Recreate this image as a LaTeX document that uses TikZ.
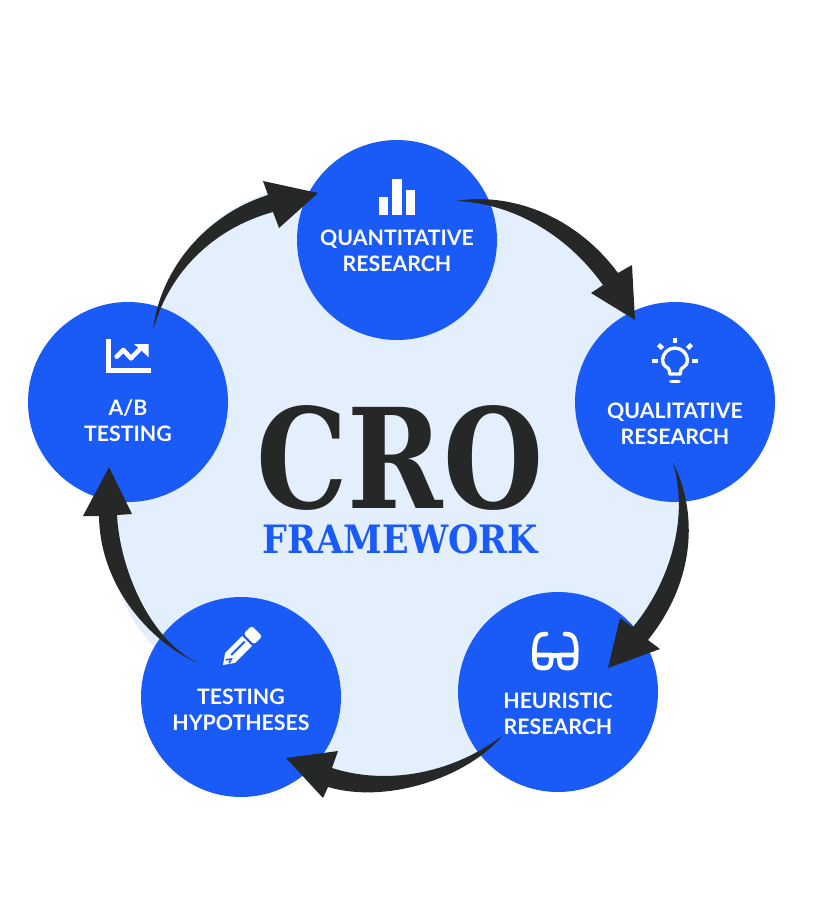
\documentclass[tikz,border=0pt]{standalone}
\usepackage{fontspec}
\usepackage{graphicx}
\setmainfont{Lato}
\newfontfamily\titlefont{DejaVu Serif}
\definecolor{croblue}{HTML}{1A5AF6}
\definecolor{crolight}{HTML}{E4EFFE}
\definecolor{crodark}{HTML}{262827}
\tikzset{
  bluedisc/.style={circle,fill=croblue,draw=none,minimum size=200pt,inner sep=0pt},
  lbl/.style={text=white,align=center,inner sep=0pt,font=\fontsize{21.3}{26}\selectfont\bfseries},
  sweep/.style={fill=crodark,draw=none},
  icon/.style={fill=white,draw=none},
  iconline/.style={draw=white,fill=none,line width=3.4pt,line cap=round,line join=round},
}
\begin{document}
\begin{tikzpicture}[x=1pt,y=-1pt]
\useasboundingbox (0,0) rectangle (818,900);
\fill[white] (0,0) rectangle (818,900);
% arrow end points
\coordinate (a1s) at (456,201);
\coordinate (a1e) at (635,320);
\coordinate (a2s) at (673,463);
\coordinate (a2e) at (608,668);
\coordinate (a3s) at (502,736);
\coordinate (a3e) at (286,758);
\coordinate (a4s) at (198,663);
\coordinate (a4e) at (109,467);
\coordinate (a5s) at (153,330);
\coordinate (a5e) at (318,193);
% pale field bounded by the arrows
\fill[crolight] (a1s) .. controls (510,195) and (575,218) .. (618,275) -- (a1e) -- (a2s) .. controls (692,505) and (695,575) .. (645,637) -- (a2e) -- (a3s) .. controls (470,772) and (390,802) .. (328,784) -- (a3e) -- (175,665) .. controls (140,640) and (105,590) .. (108,516) -- (a4e) -- (a5s) .. controls (160,270) and (205,213) .. (268,193) -- (a5e) -- cycle;
\node[bluedisc] (q) at (397,240) {};
\node[bluedisc] (ql) at (675,402) {};
\node[bluedisc] (h) at (558,692) {};
\node[bluedisc] (t) at (241,697) {};
\node[bluedisc] (ab) at (128,402) {};
% arrows
\fill[sweep] (a1s) .. controls (510,192) and (575,215) .. (618,273) -- (632,265) -- (a1e) -- (591,293) -- (603,285) .. controls (565,232) and (510,203) .. cycle;
\fill[sweep] (a2s) .. controls (695,505) and (700,575) .. (648,640) -- (660,649) -- (a2e) -- (620,618) -- (633,627) .. controls (668,585) and (690,520) .. cycle;
\fill[sweep] (a3s) .. controls (470,775) and (390,805) .. (328,787) -- (323,798) -- (a3e) -- (338,751) -- (332,768) .. controls (385,785) and (450,775) .. cycle;
\fill[sweep] (a4s) .. controls (155,645) and (100,590) .. (99,516) -- (83,516) -- (a4e) -- (132,514) -- (117,515) .. controls (120,570) and (150,640) .. cycle;
\fill[sweep] (a5s) .. controls (160,270) and (205,215) .. (268,195) -- (263,181) -- (a5e) -- (279,228) -- (273,212) .. controls (215,228) and (170,270) .. cycle;
% bar chart
\fill[icon] (379,197) rectangle (388,215);
\fill[icon] (392.3,179.3) rectangle (401.7,215);
\fill[icon] (406,190.3) rectangle (415,215);
% line chart
\draw[draw=white,line width=4.8pt,line join=miter] (108.4,339) -- (108.4,370.5) -- (151,370.5);
\draw[draw=white,line width=4.6pt,line join=round,line cap=round] (116.7,356.7) -- (123.3,350) -- (131,358.3) -- (139,350);
\fill[icon] (134,344) -- (148.5,344) -- (148.5,357) -- cycle;
% bulb
\draw[iconline] (669.5,374) -- (669.5,371) .. controls (669.5,367) and (662.5,367) .. (662.5,360.5) arc[start angle=180,end angle=360,radius=12.5] .. controls (687.5,367) and (680.5,367) .. (680.5,371) -- (680.5,374) -- cycle;
\draw[draw=white,line width=3.6pt,line cap=round] (671,381.5) -- (679,381.5);
\draw[draw=white,line width=4.4pt] (675,337.5) -- (675,343);
\draw[draw=white,line width=4.4pt] (658.5,344.5) -- (662.5,348.5);
\draw[draw=white,line width=4.4pt] (691.5,344.5) -- (687.5,348.5);
\draw[draw=white,line width=4.4pt] (652,361) -- (658,361);
\draw[draw=white,line width=4.4pt] (692,361) -- (698,361);
% glasses
\draw[iconline,line width=4.6pt] (534.5,655) -- (551,655) .. controls (552,664) and (550,668) .. (545,668) -- (541,668) .. controls (535,668) and (534,662) .. (534.5,655) -- cycle;
\draw[iconline,line width=4.6pt] (576,655) -- (559.5,655) .. controls (558.5,664) and (560.5,668) .. (565.5,668) -- (569.5,668) .. controls (575.5,668) and (576.5,662) .. (576,655) -- cycle;
\draw[iconline,line width=4.6pt] (551,655.5) -- (559.5,655.5);
\draw[iconline,line width=4.6pt] (534.5,655) .. controls (534,645) and (536,637) .. (540,635) .. controls (542,634) and (545,634) .. (546,634);
\draw[iconline,line width=4.6pt] (576,655) .. controls (577,645) and (575,637) .. (571,635) .. controls (569,634) and (566,634) .. (565,634);
% pencil
\begin{scope}[shift={(223,665)},rotate=45]
\fill[icon] (0,0) -- (10,-7) -- (34,-7) -- (34,7) -- (10,7) -- cycle;
\fill[icon,rounded corners=2.5pt] (36.5,-7.5) rectangle (48,7.5);
\draw[draw=croblue,line width=2pt] (13,-1.2) -- (32,-1.2);
\draw[draw=croblue,line width=1.6pt] (5.5,-1.8) -- (10,1.6) -- (5.5,3);
\end{scope}
% labels
\node[lbl] (lq) at (397,251) {QUANTITATIVE\\RESEARCH};
\node[lbl] (lql) at (675,423.5) {QUALITATIVE\\RESEARCH};
\node[lbl] (lh) at (558,714) {HEURISTIC\\RESEARCH};
\node[lbl] (lt) at (241,710) {TESTING\\HYPOTHESES};
\node[lbl] (lab) at (128,421) {A/B\\TESTING};
% title
\node[inner sep=0pt,text=crodark] (cro) at (400,457.5) {\resizebox{287pt}{103pt}{\titlefont\bfseries CRO}};
\node[inner sep=0pt,text=croblue] (fw) at (400.5,539) {\resizebox{275pt}{29pt}{\titlefont\bfseries FRAMEWORK}};
\end{tikzpicture}
\end{document}
